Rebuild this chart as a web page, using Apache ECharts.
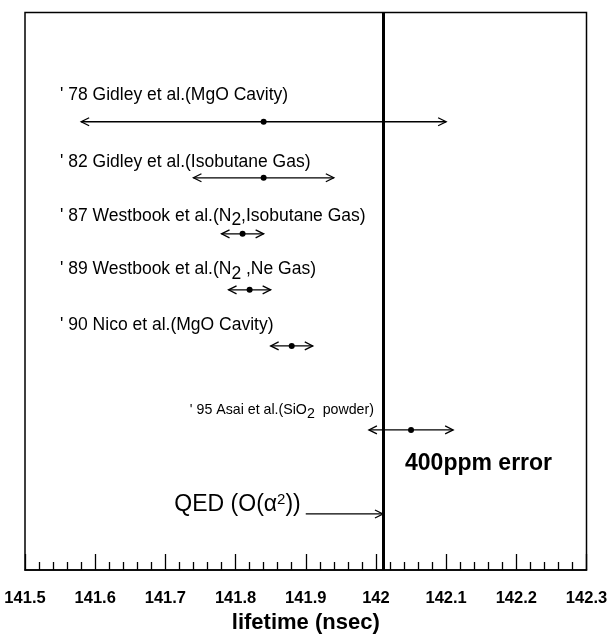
<!DOCTYPE html>
<html>
<head>
<meta charset="utf-8">
<script src="https://cdn.jsdelivr.net/npm/echarts@6/dist/echarts.min.js"></script>
<style>
  html, body { margin: 0; padding: 0; background: #fff; }
  #chart { width: 611px; height: 636px; }
</style>
</head>
<body>
<div id="chart"></div>
<script>
// Ortho-positronium lifetime measurements (ns), central value and error
const studies = [
  "' 78 Gidley et al.(MgO Cavity)",
  "' 82 Gidley et al.(Isobutane Gas)",
  "' 87 Westbook et al.(N₂,Isobutane Gas)",
  "' 89 Westbook et al.(N₂ ,Ne Gas)",
  "' 90 Nico et al.(MgO Cavity)",
  "' 95 Asai et al.(SiO₂  powder)"
];
const lifetime = [141.84, 141.84, 141.81, 141.82, 141.88, 142.05];
const lifetimeError = [0.26, 0.10, 0.03, 0.03, 0.03, 0.06];

// Theoretical prediction
const qedLabel = 'QED (O(α²))';
const qedLifetime = 142.01;
const qedArrowStart = 141.90;

const accuracyNote = '400ppm error';

// Axis range and ticks
const xMin = 141.5;
const xMax = 142.3;
const xStep = 0.1;
const axisTitle = 'lifetime (nsec)';

// ---- layout (vertical slots, label placement) ----
const rowSlot = [1, 2, 3, 4, 5, 6.5];
const qedSlot = 8;
const labelLift = [27, 16, 18, 20.5, 21, 20];   // px above the bar
const labelLeft = 141.55;                        // common left edge of labels
const FONT = '"Liberation Sans", Arial, Helvetica, sans-serif';

// turn ₂ / ² into rich-text tokens
function toRich(s) {
  return '{n|' + s.replace(/₂/g, '}{s|2}{n|').replace(/²/g, '}{p|2}{n|') + '}';
}

function arrowHead(tip, dir) {
  // dir = -1 : pointing left, +1 : pointing right
  return {
    type: 'polyline',
    shape: { points: [[tip[0] - dir * 8, tip[1] - 4], tip, [tip[0] - dir * 8, tip[1] + 4]] },
    style: { stroke: '#000', lineWidth: 1.3, fill: null }
  };
}

function studyRich(fs) {
  return {
    n: { fontSize: fs, fontFamily: FONT, lineHeight: 20, verticalAlign: 'middle' },
    s: { fontSize: fs, fontFamily: FONT, lineHeight: 20, padding: [9, 0, 0, 0], verticalAlign: 'middle' }
  };
}

function renderStudy(params, api) {
  const i = params.dataIndex;
  const v = api.value(0), e = api.value(1), slot = api.value(2);
  const c = api.coord([v, slot]);
  const lo = api.coord([v - e, slot]);
  const hi = api.coord([v + e, slot]);
  const last = i === studies.length - 1;
  let tx, align;
  if (last) { tx = lo[0] + 5; align = 'right'; }
  else { tx = api.coord([labelLeft, slot])[0]; align = 'left'; }
  return {
    type: 'group',
    children: [
      { type: 'line', shape: { x1: lo[0], y1: lo[1], x2: hi[0], y2: hi[1] },
        style: { stroke: '#000', lineWidth: 1.3 } },
      arrowHead(lo, -1),
      arrowHead(hi, 1),
      { type: 'circle', shape: { cx: c[0], cy: c[1], r: 3 }, style: { fill: '#000' } },
      { type: 'text', x: tx, y: c[1] - labelLift[i],
        style: { text: toRich(studies[i]), rich: studyRich(last ? 14.2 : 17.5),
                 align: align, verticalAlign: 'middle', fill: '#000' } }
    ]
  };
}

function renderQed(params, api) {
  const a = api.coord([api.value(0), api.value(2)]);
  const b = api.coord([api.value(1), api.value(2)]);
  return {
    type: 'group',
    children: [
      { type: 'line', shape: { x1: a[0], y1: a[1], x2: b[0], y2: b[1] },
        style: { stroke: '#000', lineWidth: 1.3 } },
      arrowHead(b, 1),
      { type: 'text', x: a[0] - 5, y: a[1] - 9,
        style: {
          text: toRich(qedLabel), align: 'right', verticalAlign: 'middle', fill: '#000',
          rich: {
            n: { fontSize: 23, fontFamily: FONT, lineHeight: 24, verticalAlign: 'middle' },
            p: { fontSize: 15, fontFamily: FONT, lineHeight: 15, padding: [0, 0, 11, 0], verticalAlign: 'middle' }
          }
        } }
    ]
  };
}

function renderNote(params, api) {
  const c = api.coord([api.value(0), api.value(1)]);
  return {
    type: 'text', x: c[0] - 6, y: c[1] + 34,
    style: { text: accuracyNote, font: 'bold 23px ' + FONT, align: 'left', verticalAlign: 'middle', fill: '#000' }
  };
}

const chart = echarts.init(document.getElementById('chart'), null, { renderer: 'canvas' });
chart.setOption({
  animation: false,
  backgroundColor: '#fff',
  grid: {
    left: 25, right: 24.5, top: 12.5, bottom: 66,
    outerBoundsMode: 'none', containLabel: false,
    show: true, borderColor: '#000', borderWidth: 1.5
  },
  xAxis: {
    type: 'value', min: xMin, max: xMax, interval: xStep,
    axisLine: { show: true, onZero: false, lineStyle: { color: '#000', width: 1.5 } },
    axisTick: { show: true, inside: true, length: 16, lineStyle: { color: '#000', width: 1.3 } },
    minorTick: { show: true, splitNumber: 5, length: 8, lineStyle: { color: '#000', width: 1.3 } },
    splitLine: { show: false },
    axisLabel: { color: '#000', fontFamily: FONT, fontWeight: 'bold', fontSize: 16.5, margin: 20 },
    name: axisTitle, nameLocation: 'middle', nameGap: 41,
    nameTextStyle: { color: '#000', fontFamily: FONT, fontWeight: 'bold', fontSize: 22 }
  },
  yAxis: { type: 'value', inverse: true, min: -0.95, max: 9, show: false },
  series: [
    {
      type: 'custom', name: 'measurements', renderItem: renderStudy,
      data: studies.map((s, i) => [lifetime[i], lifetimeError[i], rowSlot[i]])
    },
    {
      type: 'custom', name: 'QED', renderItem: renderQed,
      data: [[qedArrowStart, qedLifetime, qedSlot]],
      markLine: {
        silent: true, symbol: ['none', 'none'], label: { show: false },
        lineStyle: { color: '#000', width: 3, type: 'solid' },
        data: [{ xAxis: qedLifetime }]
      }
    },
    {
      type: 'custom', name: 'note', renderItem: renderNote,
      data: [[lifetime[lifetime.length - 1], rowSlot[rowSlot.length - 1]]]
    }
  ]
});
</script>
</body>
</html>
